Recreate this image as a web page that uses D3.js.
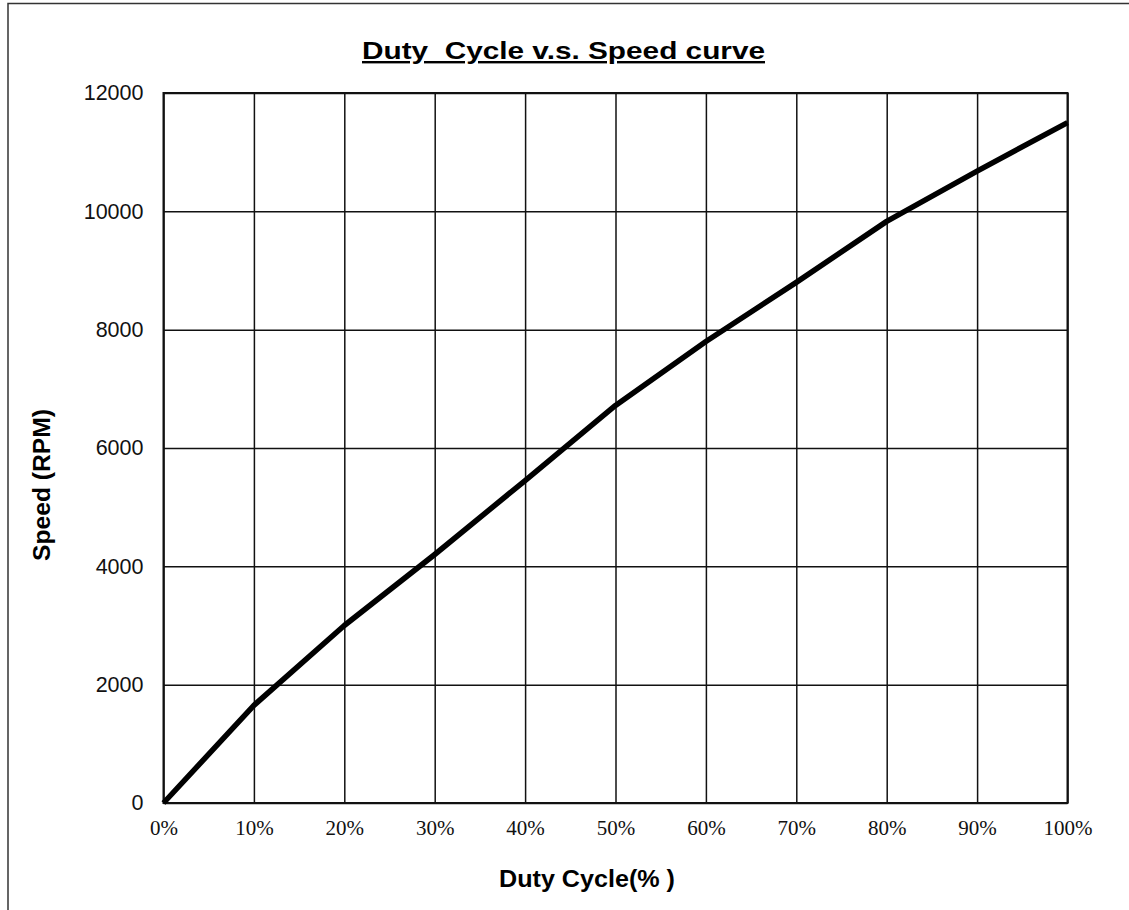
<!DOCTYPE html>
<html>
<head>
<meta charset="utf-8">
<script src="https://cdn.jsdelivr.net/npm/d3@7"></script>
<style>
  body { margin: 0; background: #fff; }
  svg { display: block; }
</style>
</head>
<body>
<div class="chart"></div>
<script>
// data
const dutyCycle = [0, 10, 20, 30, 40, 50, 60, 70, 80, 90, 100];
const speedRpm = [0, 1650, 3000, 4200, 5450, 6720, 7800, 8800, 9830, 10680, 11500];
const yTicks = [0, 2000, 4000, 6000, 8000, 10000, 12000];
const xTicks = [0, 10, 20, 30, 40, 50, 60, 70, 80, 90, 100];

// setup chart
const width = 1129;
const height = 910;
const margin = { top: 93, right: 61.5, bottom: 107, left: 163.5 };
const chart = d3.select(".chart").append("svg").attr("width", width).attr("height", height);

const sans = "Liberation Sans, Arial, sans-serif";

// outer frame (runs off the right and bottom edges)
chart.append("rect")
   .attr("x", 8).attr("y", 3.5)
   .attr("width", width + 20).attr("height", height + 20)
   .attr("fill", "none").attr("stroke", "#333").attr("stroke-width", 1.5);

const x = d3.scaleLinear().domain([0, 100]).range([margin.left, width - margin.right]);
const y = d3.scaleLinear().domain([0, 12000]).range([height - margin.bottom, margin.top]);

// grid
chart.append("g")
   .attr("transform", `translate(0,${height - margin.bottom})`)
   .call(d3.axisBottom(x).tickValues(xTicks).tickSize(-(height - margin.top - margin.bottom)).tickFormat(""))
   .call((g) => g.select(".domain").remove())
   .call((g) => g.selectAll("line").attr("stroke", "#111").attr("stroke-width", 1.5));

chart.append("g")
   .attr("transform", `translate(${margin.left},0)`)
   .call(d3.axisLeft(y).tickValues(yTicks).tickSize(-(width - margin.left - margin.right)).tickFormat(""))
   .call((g) => g.select(".domain").remove())
   .call((g) => g.selectAll("line").attr("stroke", "#111").attr("stroke-width", 1.5));

// plot border
chart.append("rect")
   .attr("x", margin.left).attr("y", margin.top)
   .attr("width", width - margin.left - margin.right)
   .attr("height", height - margin.top - margin.bottom)
   .attr("fill", "none").attr("stroke", "#111").attr("stroke-width", 2);

// tick labels
chart.append("g")
   .attr("transform", `translate(0,${height - margin.bottom})`)
   .call(d3.axisBottom(x).tickValues(xTicks).tickSize(0).tickPadding(17).tickFormat((d) => d + "%"))
   .call((g) => g.select(".domain").remove())
   .selectAll("text")
   .attr("font-family", "Liberation Serif, Times New Roman, serif")
   .attr("font-size", 21)
   .attr("fill", "#111");

chart.append("g")
   .attr("transform", `translate(${margin.left},0)`)
   .call(d3.axisLeft(y).tickValues(yTicks).tickSize(0).tickPadding(20).tickFormat(d3.format("d")))
   .call((g) => g.select(".domain").remove())
   .selectAll("text")
   .attr("font-family", sans)
   .attr("font-size", 21.5)
   .attr("fill", "#111");

// curve
const line = d3.line().x((d, i) => x(dutyCycle[i])).y((d) => y(d));
chart.append("path")
   .datum(speedRpm)
   .attr("d", line)
   .attr("fill", "none")
   .attr("stroke", "#000")
   .attr("stroke-width", 5.5)
   .attr("stroke-linejoin", "round");

// title (source font is wider than Arial, so stretch to its width)
chart.append("text")
   .attr("x", 362).attr("y", 59)
   .attr("font-family", sans)
   .attr("font-weight", "bold")
   .attr("font-size", 24)
   .attr("textLength", 403)
   .attr("lengthAdjust", "spacingAndGlyphs")
   .attr("text-decoration", "underline")
   .style("white-space", "pre")
   .text("Duty  Cycle v.s. Speed curve");

// axis titles
chart.append("text")
   .attr("x", 499).attr("y", 887)
   .attr("font-family", sans)
   .attr("font-weight", "bold")
   .attr("font-size", 23.5)
   .attr("textLength", 176)
   .attr("lengthAdjust", "spacingAndGlyphs")
   .style("white-space", "pre")
   .text("Duty Cycle(% )");

chart.append("text")
   .attr("transform", "translate(50,485) rotate(-90)")
   .attr("x", -76)
   .attr("font-family", sans)
   .attr("font-weight", "bold")
   .attr("font-size", 23.5)
   .attr("textLength", 152)
   .attr("lengthAdjust", "spacingAndGlyphs")
   .text("Speed (RPM)");
</script>
</body>
</html>
